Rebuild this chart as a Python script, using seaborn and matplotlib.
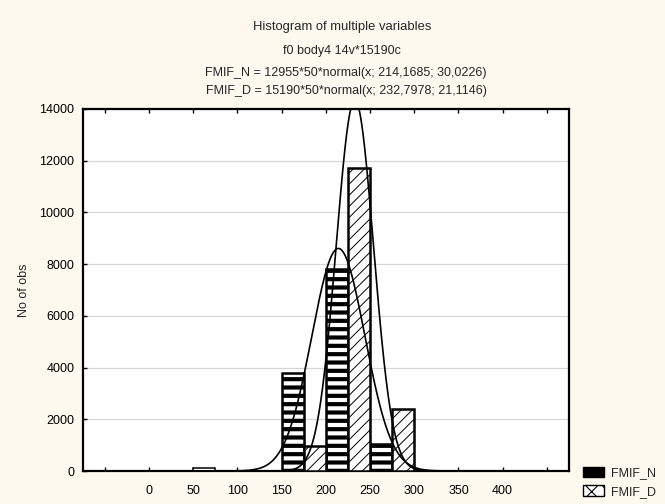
import numpy as np
import pandas as pd
import matplotlib
matplotlib.use("Agg")
import matplotlib.pyplot as plt
import seaborn as sns
from matplotlib.patches import Patch

# ---- data ----
n_pos = [62.5, 162.5, 212.5, 262.5]      # FMIF_N bar centres (left half of 50-wide bins)
n_counts = [130, 3800, 7800, 1030]
d_pos = [187.5, 237.5, 287.5]            # FMIF_D bar centres (right half of bins)
d_counts = [970, 11700, 2400]
series_names = ["FMIF_N", "FMIF_D"]
# fitted normal curves: total N, bin width, mean, sd
fit_n = (12955, 50, 214.1685, 30.0226)
fit_d = (15190, 50, 232.7978, 21.1146)
x_ticks = [-50, 0, 50, 100, 150, 200, 250, 300, 350, 400, 450]
x_tick_labels = ["", "0", "50", "100", "150", "200", "250", "300", "350", "400", ""]
y_ticks = [0, 2000, 4000, 6000, 8000, 10000, 12000, 14000]
title_lines = [
    "Histogram of multiple variables",
    "f0 body4 14v*15190c",
    "FMIF_N = 12955*50*normal(x; 214,1685; 30,0226)",
    "FMIF_D = 15190*50*normal(x; 232,7978; 21,1146)",
]

sns.set_style("white")
plt.rcParams["font.family"] = ["Liberation Sans", "DejaVu Sans"]
plt.rcParams["hatch.linewidth"] = 0.8

BG = "#fdf9ee"
fig = plt.figure(figsize=(6.65, 5.04), dpi=100, facecolor=BG)
ax = fig.add_axes([82.7 / 665, 1 - 471 / 504, (569 - 82.7) / 665, (471 - 109) / 504])
ax.set_facecolor("white")

df_n = pd.DataFrame({"x": n_pos, "y": n_counts})
df_d = pd.DataFrame({"x": d_pos, "y": d_counts})

sns.barplot(data=df_n, x="x", y="y", native_scale=True, width=0.5, color="white",
            edgecolor="black", linewidth=1.8, ax=ax, errorbar=None, zorder=3)
n_patches = list(ax.patches)
for p in n_patches:
    p.set_facecolor("white")
    if p.get_height() > 500:
        p.set_hatch("--")
        if hasattr(p, "set_hatch_linewidth"):
            p.set_hatch_linewidth(3.0)
    else:
        p.set_linewidth(1.1)
sns.barplot(data=df_d, x="x", y="y", native_scale=True, width=0.5, color="white",
            edgecolor="black", linewidth=1.8, ax=ax, errorbar=None, zorder=3)
for p in ax.patches:
    if p in n_patches:
        continue
    p.set_facecolor("white")
    p.set_hatch("///")
    if hasattr(p, "set_hatch_linewidth"):
        p.set_hatch_linewidth(0.7)

# fitted normal curves
xs = np.linspace(-75, 475, 1200)
for (tot, bw, mu, sd) in (fit_n, fit_d):
    ys = tot * bw * np.exp(-0.5 * ((xs - mu) / sd) ** 2) / (sd * np.sqrt(2 * np.pi))
    sns.lineplot(x=xs, y=ys, color="black", linewidth=1.2, ax=ax, zorder=4)

ax.set_xlim(-75, 475)
ax.set_ylim(0, 14000)
ax.set_xticks(x_ticks)
ax.set_xticklabels(x_tick_labels)
ax.set_yticks(y_ticks)
ax.set_yticklabels([str(v) for v in y_ticks])
ax.set_xlabel("")
ax.set_ylabel("No of obs", fontsize=9, labelpad=7)
ax.yaxis.grid(True, color="#d6d6d6", linewidth=0.9, zorder=0)
ax.xaxis.grid(False)
ax.set_axisbelow(True)
ax.tick_params(axis="x", direction="in", length=3, width=1, top=True, bottom=True,
               labelsize=9, pad=10, colors="black")
ax.tick_params(axis="y", direction="in", length=3, width=1, left=True, right=False,
               labelsize=9, pad=6, colors="black")
for s in ax.spines.values():
    s.set_visible(True)
    s.set_color("black")
    s.set_linewidth(1.6)

# title lines
for txt, xx, yy, fs in zip(title_lines, [342, 342, 346, 346], [27, 51, 73, 91],
                           [9.4, 9, 9, 9]):
    fig.text(xx / 665, 1 - yy / 504, txt, ha="center", va="center", fontsize=fs)

handles = [
    Patch(facecolor="black", edgecolor="black", hatch="--", label=series_names[0]),
    Patch(facecolor="white", edgecolor="black", hatch="xx", label=series_names[1]),
]
fig.legend(handles=handles, loc="upper left", bbox_to_anchor=(583 / 665, 1 - 467 / 504),
           frameon=False, fontsize=9, handlelength=1.7, handleheight=0.9,
           handletextpad=0.5, labelspacing=0.45, borderpad=0, borderaxespad=0)

fig.savefig("out.png", dpi=100, facecolor=BG)
